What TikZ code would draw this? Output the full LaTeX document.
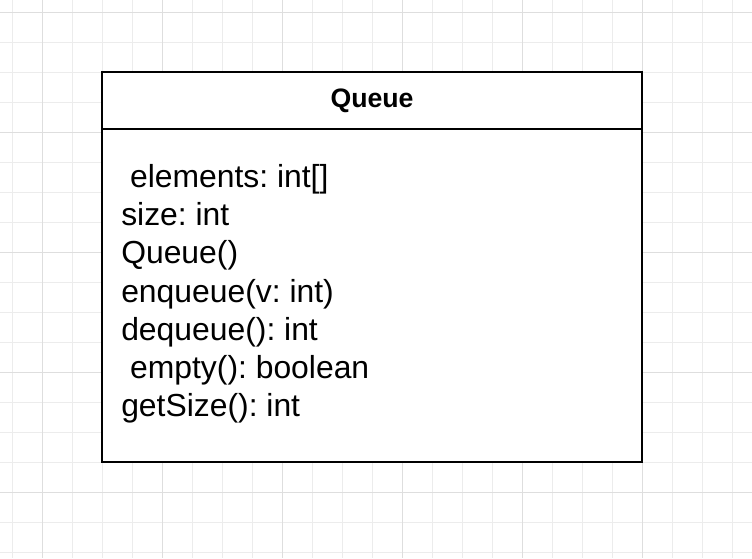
\documentclass[tikz,border=0pt]{standalone}
\usepackage{fontspec}
\setmainfont{Liberation Sans}
\frenchspacing
\usetikzlibrary{positioning}

\definecolor{gridminor}{RGB}{236,236,236}
\definecolor{gridmajor}{RGB}{222,222,222}

\tikzset{
    minorline/.style={draw=gridminor,line width=0.75pt},
    majorline/.style={draw=gridmajor,line width=0.75pt},
    classbox/.style={draw=black,fill=white,line width=1.9pt},
    member/.style={anchor=base west,inner sep=0pt,font=\fontsize{23.9}{28.7}\selectfont}
}

\begin{document}
\begin{tikzpicture}[x=0.75pt,y=-0.75pt]
    \useasboundingbox (0,0) rectangle (752,558);

    %background grid
    \foreach \x in {12,42,...,732}
        \draw[minorline] (\x,0) -- (\x,558);
    \foreach \y in {12,42,...,552}
        \draw[minorline] (0,\y) -- (752,\y);
    \foreach \x in {42,162,...,642}
        \draw[majorline] (\x,0) -- (\x,558);
    \foreach \y in {12,132,...,492}
        \draw[majorline] (0,\y) -- (752,\y);

    %class box
    \draw[classbox] (102,72) rectangle (642,462);
    \draw[line width=1.9pt] (102,129) -- (642,129);
    \node[font=\fontsize{20}{24}\selectfont\bfseries] (title) at (372,100.5) {Queue};

    %members, one per line
    \foreach \txt [count=\i] in {{\ elements: int[]},{size: int},{Queue()},
            {enqueue(v: int)},{dequeue(): int},{\ empty(): boolean},{getSize(): int}}
        \node[member] (line\i) at (121,{187+38.33*(\i-1)}) {\txt};
\end{tikzpicture}
\end{document}
